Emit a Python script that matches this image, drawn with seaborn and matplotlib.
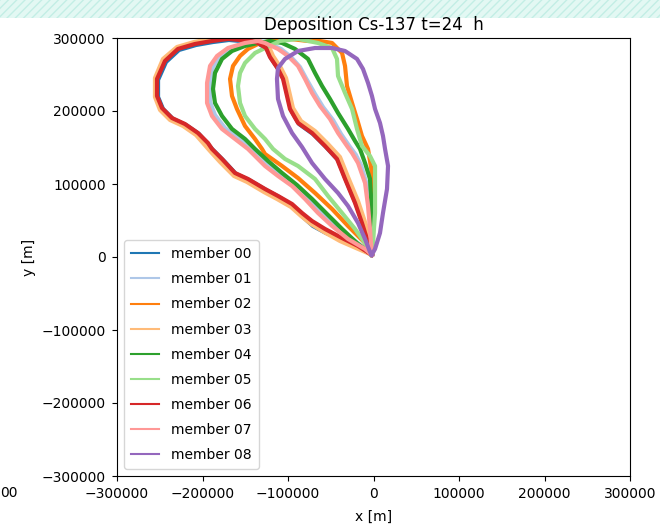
import numpy as np
import pandas as pd
import matplotlib
matplotlib.use("Agg")
import matplotlib.pyplot as plt
import seaborn as sns
from matplotlib.patches import Rectangle

# contour outlines (km), member by member
m00_x = [-2, -19.3, -38.0, -55.6, -70.8, -82.5, -94.2, -110.5, -125.7, -145.6, -160.8, -176.0, -187.7, -204.1, -219.3, -234.5, -246.2, -252.0, -252.0, -242.7, -227.5, -207.6, -187.7, -169.0, -142.1, -133.9, -124.6, -119.9, -110.5, -104.7, -100.0, -96.5, -87.1, -70.8, -55.6, -41.5, -32.2, -20.5, -12.3, -6.4, -2]
m00_y = [3, 13.7, 24.7, 32.9, 42.5, 54.8, 69.9, 82.2, 91.8, 105.5, 113.7, 132.9, 146.6, 168.5, 180.8, 189.1, 202.8, 219.2, 242.5, 267.1, 283.6, 290.4, 294.5, 297.3, 294.5, 291.8, 285.0, 272.6, 256.2, 242.5, 219.2, 201.4, 182.2, 168.5, 150.7, 132.9, 105.5, 72.6, 45.2, 23.3, 3]

m01_x = [-2, -13.5, -33.3, -50.9, -68.4, -82.5, -97.7, -112.9, -129.2, -144.4, -158.5, -173.7, -185.4, -191.2, -191.2, -187.7, -179.5, -166.7, -148.0, -132.8, -123.4, -108.2, -96.5, -86.0, -77.8, -68.4, -59.1, -47.4, -38.0, -27.5, -20.5, -14.6, -7.6, -4.1, -2.9, -2]
m01_y = [3, 15.1, 31.5, 49.3, 69.9, 87.7, 104.1, 117.8, 131.5, 149.3, 163.0, 176.7, 194.5, 212.3, 238.4, 260.3, 275.4, 286.3, 293.2, 295.9, 293.2, 285.0, 274.0, 260.3, 242.5, 223.3, 205.5, 187.7, 168.5, 150.7, 139.7, 126.0, 98.6, 67.1, 35.6, 3]

m02_x = [-2, -9.9, -29.8, -48.5, -68.4, -88.3, -107.0, -126.9, -130.4, -138.6, -150.3, -159.7, -165.5, -167.8, -164.3, -156.1, -146.8, -135.1, -121.1, -97.7, -76.6, -62.6, -48.5, -36.8, -33.3, -31.0, -25.1, -19.3, -13.5, -6.4, -1.8, -0.6, -0.6, -2]
m02_y = [3, 19.2, 42.5, 65.8, 87.7, 108.2, 124.7, 141.1, 148.0, 161.7, 179.5, 202.8, 220.6, 243.9, 261.7, 275.4, 285.0, 291.8, 295.9, 298.7, 295.9, 295.9, 293.2, 279.5, 261.7, 234.3, 211.0, 189.1, 165.8, 148.0, 115.1, 63.0, 21.9, 3]

m03_x = [-2, -20.5, -39.2, -57.9, -73.1, -84.8, -96.5, -112.9, -128.1, -148.0, -163.2, -179.5, -191.2, -207.6, -222.8, -238.0, -249.7, -255.6, -255.6, -246.2, -229.8, -209.9, -190.1, -170.2, -140.9, -132.8, -122.2, -117.5, -108.2, -102.3, -97.7, -94.2, -84.8, -68.4, -53.2, -39.2, -29.8, -18.1, -9.9, -4.1, -2]
m03_y = [3, 12.3, 21.9, 34.2, 45.2, 56.2, 68.5, 79.5, 89.0, 102.8, 111.0, 130.2, 145.2, 167.1, 179.5, 187.7, 201.4, 219.2, 245.2, 271.3, 287.7, 294.5, 298.7, 299.5, 298.7, 295.9, 287.7, 275.4, 258.9, 245.2, 221.9, 204.1, 186.3, 172.6, 154.8, 137.0, 109.6, 76.7, 47.9, 26.0, 3]

m04_x = [-2, -19.3, -36.8, -54.4, -71.9, -89.5, -107.0, -123.4, -138.6, -150.3, -165.5, -177.2, -185.4, -187.7, -185.4, -177.2, -165.5, -150.3, -135.1, -121.1, -107.0, -91.8, -76.6, -68.4, -60.2, -50.9, -41.5, -29.8, -21.6, -15.8, -9.9, -4.1, -1.8, -1.8, -2]
m04_y = [3, 19.2, 38.4, 58.9, 79.5, 98.6, 115.1, 131.5, 148.0, 161.7, 175.4, 193.2, 211.0, 230.2, 252.1, 271.3, 282.2, 289.1, 293.2, 295.9, 293.2, 285.0, 271.3, 252.1, 234.3, 216.5, 197.3, 175.4, 158.9, 148.0, 128.8, 106.9, 60.3, 19.2, 3]

m05_x = [-2, -7.6, -21.6, -36.8, -53.2, -68.4, -88.3, -103.5, -117.5, -126.9, -138.6, -150.3, -156.1, -158.5, -156.1, -150.3, -138.6, -126.9, -109.4, -88.3, -64.9, -48.5, -42.7, -41.5, -33.3, -25.1, -19.3, -13.5, -4.1, 1.8, 1.8, -0.6, -2]
m05_y = [3, 15.1, 38.4, 60.3, 83.6, 106.9, 124.7, 134.3, 148.0, 161.7, 175.4, 193.2, 211.0, 234.3, 252.1, 265.8, 279.5, 286.3, 295.9, 298.7, 293.2, 286.3, 271.3, 248.0, 224.7, 202.8, 175.4, 152.1, 138.4, 124.7, 60.3, 19.2, 3]

m06_x = [-2, -18.1, -36.8, -56.7, -71.9, -83.6, -95.3, -111.7, -126.9, -146.8, -162.0, -177.2, -188.9, -193.6, -205.3, -220.5, -235.7, -247.4, -253.2, -253.2, -243.9, -228.7, -208.8, -188.9, -170.2, -142.1, -135.1, -125.7, -121.1, -111.7, -105.8, -101.2, -97.7, -88.3, -71.9, -56.7, -42.7, -33.3, -21.6, -13.5, -7.6, -2]
m06_y = [3, 15.1, 26.0, 38.4, 49.3, 60.3, 72.6, 83.6, 93.2, 106.9, 115.1, 134.3, 148.0, 156.2, 169.9, 182.2, 190.4, 204.1, 220.6, 243.9, 268.5, 285.0, 291.8, 295.9, 298.7, 295.9, 293.2, 286.3, 274.0, 257.6, 243.9, 220.6, 202.8, 183.6, 169.9, 152.1, 134.3, 106.9, 74.0, 46.6, 24.7, 3]

m07_x = [-2, -9.9, -29.8, -48.5, -64.9, -80.1, -95.3, -111.7, -126.9, -146.8, -162.0, -177.2, -188.9, -194.7, -194.7, -191.2, -183.0, -170.2, -150.3, -135.1, -126.9, -111.7, -100.0, -88.3, -80.1, -71.9, -62.6, -50.9, -41.5, -31.0, -25.1, -18.1, -9.9, -6.4, -4.1, -2]
m07_y = [3, 11.0, 24.7, 42.5, 60.3, 79.5, 97.3, 111.0, 124.7, 148.0, 161.7, 175.4, 193.2, 211.0, 238.4, 261.7, 275.4, 286.3, 293.2, 295.9, 293.2, 285.0, 275.4, 261.7, 243.9, 224.7, 206.9, 189.1, 169.9, 152.1, 142.5, 128.8, 101.4, 69.9, 38.4, 3]

m08_x = [-2, 1.8, 7.6, 11.1, 15.8, 17.0, 13.5, 11.1, 7.6, 1.8, -1.8, -6.4, -12.3, -19.3, -33.3, -48.5, -68.4, -88.3, -103.5, -111.7, -112.9, -111.7, -105.8, -95.3, -83.6, -71.9, -56.7, -41.5, -29.8, -18.1, -9.9, -4.1, -2]
m08_y = [3, 11.0, 32.9, 60.3, 93.2, 124.7, 148.0, 165.8, 183.6, 202.8, 220.6, 238.4, 257.6, 271.3, 282.2, 286.3, 286.3, 282.2, 271.3, 258.9, 243.9, 216.5, 193.2, 169.9, 150.7, 128.8, 106.9, 87.7, 69.9, 46.6, 24.7, 6.9, 3]

members = ["member 00", "member 01", "member 02", "member 03", "member 04",
           "member 05", "member 06", "member 07", "member 08"]
xs = [m00_x, m01_x, m02_x, m03_x, m04_x, m05_x, m06_x, m07_x, m08_x]
ys = [m00_y, m01_y, m02_y, m03_y, m04_y, m05_y, m06_y, m07_y, m08_y]

ticks = [-300000, -200000, -100000, 0, 100000, 200000, 300000]
tick_labels = ["\u2212300000", "\u2212200000", "\u2212100000", "0", "100000", "200000", "300000"]

frames = []
for name, mx, my in zip(members, xs, ys):
    frames.append(pd.DataFrame({"x": np.array(mx) * 1000.0,
                                "y": np.array(my) * 1000.0,
                                "member": name}))
df = pd.concat(frames, ignore_index=True)

palette = sns.color_palette("tab20", 20)[:9]

fig = plt.figure(figsize=(6.6, 5.26), dpi=100)
ax = fig.add_axes([117 / 660, 1 - 476 / 526, 513 / 660, 438 / 526])

sns.lineplot(data=df, x="x", y="y", hue="member", palette=palette,
             sort=False, estimator=None, linewidth=3, ax=ax)

ax.set_xlim(-300000, 300000)
ax.set_ylim(-300000, 300000)
ax.set_xticks(ticks)
ax.set_xticklabels(tick_labels)
ax.set_yticks(ticks)
ax.set_yticklabels(tick_labels)
ax.tick_params(labelsize=10, pad=4.5)
ax.set_xlabel("x [m]", fontsize=10, labelpad=6.5)
ax.set_ylabel("y [m]", fontsize=10)
ax.set_title("Deposition Cs-137 t=24  h", fontsize=12)

leg = ax.legend(loc="lower left", fontsize=10, labelspacing=0.8,
                handletextpad=0.9, borderpad=0.5)
for ln in leg.get_lines():
    ln.set_linewidth(1.5)

# top band of the screenshot
band = Rectangle((0, 1 - 18 / 526), 1, 18 / 526, transform=fig.transFigure,
                 facecolor="#e3f8f3", edgecolor="#c3eee5", hatch="////",
                 linewidth=0, zorder=-1)
fig.patches.append(band)
fig.text(0.0, 1 - 493 / 526, "00", fontsize=10, ha="left", va="center")

fig.savefig("out.png", dpi=100)
